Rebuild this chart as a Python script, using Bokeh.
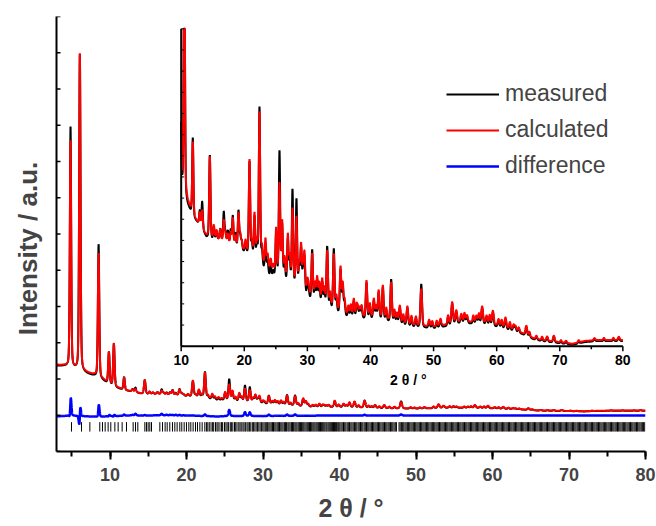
import numpy as np
from bokeh.plotting import figure
from bokeh.models import Range1d, SingleIntervalTicker, FixedTicker, Legend, LegendItem
from bokeh.core.properties import value
from bokeh.embed import file_html
from bokeh.resources import INLINE

FONT = "Liberation Sans"

# ---------------- data ----------------
# background (counts) of the calculated pattern at these 2theta knots
BG_X = [3, 4, 5, 6, 7, 8, 9, 10, 11, 12, 13, 14, 15, 16, 17, 18, 19, 20, 21, 22,
        23, 24, 25, 26, 27, 28, 29, 30, 31, 32, 33, 34, 35, 36, 37, 38, 39, 40,
        42, 44, 46, 48, 50, 52, 54, 56, 58, 60, 62, 64, 66, 68, 70, 72, 74, 76, 78, 80]
BG_CALC = [2390, 2370, 2300, 2230, 2170, 2110, 2000, 1850, 1760, 1690, 1650, 1605,
           1590, 1585, 1575, 1565, 1555, 1535, 1515, 1495, 1472, 1448, 1428, 1415,
           1395, 1385, 1365, 1335, 1318, 1303, 1285, 1275, 1258, 1246, 1236, 1232,
           1232, 1232, 1225, 1210, 1198, 1192, 1188, 1198, 1210, 1210, 1205, 1195,
           1180, 1160, 1134, 1124, 1118, 1111, 1124, 1128, 1128, 1128]
# measured background minus calculated background
BG_MEAS_DELTA = [-30, -20, -10, -20, -30, -40, -40, -20, -20, -10, 0, -10, -10, 0, 0,
                 -5, -10, -10, -10, -20, -25, -35, -25, -20, -25, -20, -20, -25, -20,
                 -15, -20, -15, -15, -15, -10, -10, -10, -10, -10, -10, -8, -8, -8,
                 -8, -8, -8, -8, -8, -8, -5, -5, -5, -5, -5, -5, -5, -5, -5]

# main reflections: position (deg 2theta), calculated / measured net height, FWHM, measured shift
PEAK_POS = [4.83, 6.05, 8.50, 9.85, 10.50, 11.84, 12.95, 13.33, 14.54, 15.17, 16.75,
            17.40, 17.85, 18.18, 18.60, 19.08, 19.60, 20.83, 21.62, 22.41, 23.36,
            24.60, 25.05, 25.58, 26.00, 26.90, 27.64, 28.27, 29.00, 29.54, 30.20,
            30.76, 31.55, 32.35, 33.14, 34.19, 35.25, 35.60, 36.50, 37.36, 38.00,
            38.60, 39.37, 40.53, 41.30, 41.96, 43.28, 44.65, 45.85, 48.05, 49.30,
            51.10, 52.95, 53.60, 54.40, 55.30, 56.80, 57.70, 58.40, 59.40, 60.30,
            61.40, 62.70, 63.50, 64.70, 66.30, 68.00, 69.06, 71.00, 75.50, 79.36]
PEAK_CALC = [6255, 8745, 3408, 864, 1170, 330, 55, 83, 370, 60, 94,
             40, 50, 120, 40, 150, 30, 432, 198, 681, 123,
             30, 207, 419, 248, 205, 335, 306, 191, 169, 40,
             197, 102, 106, 249, 246, 203, 131, 40, 79, 40,
             50, 166, 84, 125, 150, 175, 77, 82, 169, 30,
             31, 97, 55, 36, 30, 30, 75, 35, 63, 30,
             46, 25, 20, 42, 15, 20, 27, 10, 10, 15]
PEAK_MEAS = [6650, 8745, 3695, 880, 1180, 360, 65, 125, 385, 60, 132,
             55, 65, 135, 60, 170, 40, 432, 198, 726, 123,
             30, 207, 586, 248, 205, 442, 405, 191, 169, 40,
             235, 102, 106, 287, 284, 203, 131, 40, 79, 40,
             50, 166, 84, 125, 150, 198, 77, 82, 199, 30,
             31, 97, 55, 36, 30, 30, 75, 35, 63, 30,
             46, 25, 20, 42, 15, 20, 27, 10, 10, 15]
PEAK_FWHM = [0.20, 0.21, 0.21, 0.22, 0.22, 0.22, 0.24, 0.24, 0.24, 0.24, 0.24,
             0.24, 0.24, 0.24, 0.24, 0.24, 0.24, 0.25, 0.25, 0.25, 0.25,
             0.25, 0.25, 0.25, 0.25, 0.25, 0.25, 0.25, 0.26, 0.26, 0.26,
             0.26, 0.27, 0.27, 0.27, 0.27, 0.27, 0.27, 0.27, 0.27, 0.27,
             0.27, 0.27, 0.28, 0.28, 0.28, 0.28, 0.30, 0.30, 0.30, 0.30,
             0.32, 0.32, 0.32, 0.32, 0.32, 0.32, 0.32, 0.32, 0.32, 0.32,
             0.32, 0.32, 0.32, 0.32, 0.32, 0.32, 0.32, 0.32, 0.32, 0.32]
PEAK_SHIFT = [0.004, 0.004, 0.004, 0.003, 0.003] + [0.0] * 66

# weak reflections (same in measured and calculated pattern)
WEAK_POS = [15.6, 16.2, 17.0, 19.35, 20.2, 21.2, 22.0, 22.8, 23.7, 24.2, 26.4, 27.2,
            28.7, 29.3, 30.0, 31.2, 31.9, 32.7, 33.6, 34.6, 35.9, 36.9, 37.8, 38.3,
            39.9, 40.9, 42.5, 43.8, 44.2, 45.2, 46.5, 47.2, 49.8, 50.5, 52.3, 54.9,
            56.3, 57.2, 58.9, 60.8, 62.1, 63.0, 65.2, 67.2, 70.2, 73.0, 77.0, 78.5]
WEAK_HEIGHT = [40, 50, 40, 60, 50, 60, 80, 70, 60, 50, 90, 110,
               100, 90, 60, 70, 80, 70, 60, 60, 60, 50, 50, 40,
               60, 50, 50, 50, 40, 40, 40, 40, 25, 25, 40, 40,
               30, 40, 40, 30, 30, 20, 20, 15, 10, 10, 10, 10]
WEAK_FWHM = 0.26

# Bragg reflection tick positions (deg 2theta)
REFLECTIONS = [
    4.96, 6.27, 7.36, 8.66, 9.01, 9.36, 9.75, 10.10, 10.63, 11.06, 11.58, 12.15,
    13.02, 13.33, 13.63, 14.55, 14.76, 14.98, 15.20, 15.42, 16.51, 16.86, 17.20,
    17.47, 17.81, 18.16, 18.47, 18.77, 19.12, 19.38, 19.69, 19.99, 20.30, 20.56,
    20.86, 21.17, 21.43, 21.74, 22.04, 22.39,
    22.60, 22.78, 22.97, 23.20, 23.41, 23.55, 23.79, 23.98, 24.13, 24.37, 24.58,
    24.72, 24.96, 25.15, 25.31, 25.50, 25.72, 25.86, 26.05, 26.27, 26.43, 26.60,
    26.83, 26.99, 27.15, 27.37, 27.52, 27.69, 27.90, 28.05, 28.22, 28.40, 28.60,
    28.74, 28.93, 29.10, 29.27, 29.45, 29.62, 29.79, 29.97,
    30.13, 30.29, 30.43, 30.60, 30.76, 30.91, 31.07, 31.23, 31.37, 31.54, 31.69,
    31.85, 32.00, 32.15, 32.32, 32.47, 32.62, 32.79, 32.93, 33.08, 33.25, 33.39,
    33.54, 33.71, 33.85, 34.00, 34.16, 34.30, 34.44, 34.60, 34.75, 34.89, 35.04,
    35.19, 35.33, 35.48, 35.63, 35.78, 35.92, 36.07, 36.21, 36.36, 36.51, 36.65,
    36.79, 36.94, 37.08, 37.23, 37.37, 37.51, 37.66, 37.80, 37.94, 38.08, 38.23,
    38.36, 38.51, 38.65, 38.79, 38.93, 39.07, 39.21, 39.35, 39.49, 39.62, 39.77, 39.90,
    40.04, 40.20, 40.35, 40.52, 40.68, 40.83, 41.00, 41.15, 41.31, 41.48, 41.63,
    41.79, 41.95, 42.11, 42.26, 42.43, 42.58, 42.74, 42.90, 43.05, 43.22, 43.37,
    43.53, 43.69, 43.84, 44.00, 44.16, 44.31, 44.47, 44.63, 44.78, 44.94, 45.10,
    45.25, 45.41, 45.57, 45.72, 45.88, 46.04, 46.19, 46.35, 46.50, 46.66, 46.82,
    46.97, 47.13, 47.29, 47.44, 47.78, 47.93, 48.09, 48.25, 48.40, 48.56, 48.71,
    48.87, 49.03, 49.18, 49.34, 49.49, 49.65, 49.81, 49.96,
    50.12, 50.27, 50.43, 50.58, 50.74, 50.90, 51.05, 51.21, 51.36, 51.52, 51.67,
    51.83, 51.99, 52.14, 52.30, 52.45, 52.61, 52.76, 52.92, 53.07, 53.23, 53.39,
    53.54, 53.70, 53.85, 54.01, 54.16, 54.32, 54.47, 54.63, 54.79, 54.94, 55.10,
    55.25, 55.41, 55.56, 55.72, 55.87, 56.03, 56.18, 56.34, 56.50, 56.65, 56.81,
    56.96, 57.12, 57.27, 57.43, 57.58, 57.74, 57.89, 58.05, 58.20, 58.36, 58.51,
    58.67, 58.82, 58.98, 59.13, 59.29, 59.44, 59.60, 59.75, 59.91,
    60.06, 60.22, 60.37, 60.53, 60.68, 60.84, 60.99, 61.15, 61.30, 61.46, 61.61,
    61.77, 61.92, 62.08, 62.23, 62.39, 62.54, 62.70, 62.85, 63.01, 63.16, 63.32,
    63.47, 63.63, 63.78, 63.94, 64.09, 64.25, 64.40, 64.56, 64.71, 64.87, 65.02,
    65.18, 65.33, 65.49, 65.64, 65.80, 65.95, 66.11, 66.26, 66.42, 66.57, 66.73,
    66.88, 67.04, 67.19, 67.35, 67.50, 67.66, 67.81, 67.97, 68.12, 68.28, 68.43,
    68.59, 68.74, 68.90, 69.05, 69.21, 69.36, 69.52, 69.67, 69.83, 69.98,
    70.14, 70.29, 70.45, 70.60, 70.76, 70.91, 71.07, 71.22, 71.38, 71.53, 71.69,
    71.84, 72.00, 72.15, 72.31, 72.46, 72.62, 72.77, 72.93, 73.08, 73.24, 73.39,
    73.55, 73.70, 73.86, 74.01, 74.17, 74.32, 74.48, 74.63, 74.79, 74.94, 75.10,
    75.25, 75.41, 75.56, 75.72, 75.87, 76.03, 76.18, 76.34, 76.49, 76.65, 76.80,
    76.96, 77.11, 77.27, 77.42, 77.58, 77.73, 77.89, 78.04, 78.20, 78.35, 78.51,
    78.66, 78.82, 78.97, 79.13, 79.28, 79.44, 79.59, 79.75, 79.90,
]

DIFF_OFFSET = 1000          # counts, offset of the difference curve
X_TICKS = [10, 20, 30, 40, 50, 60, 70, 80]
X_TICK_LABELS = ["10", "20", "30", "40", "50", "60", "70", "80"]
X_MINOR_TICKS = [15, 25, 35, 45, 55, 65, 75]
MAIN_Y_TICKS = [0, 1000, 2000, 3000, 4000, 5000, 6000, 7000, 8000, 9000, 10000, 11000, 12000]
LEGEND_LABELS = ["measured", "calculated", "difference"]
X_TITLE = "2 θ / °"
Y_TITLE = "Intensity / a.u."

# ---------------- layout / style constants ----------------
MAIN_X = (3, 80)
MAIN_Y = (0, 12000)
INSET_X = (10, 80)
INSET_Y = (1100, 2555)
INSET_Y_STEP = 97
INSET_TARGET_X = (19.30, 77.04)
INSET_TARGET_Y = (2905, 11660)
TICK_Y = (550, 810)
NBSP = "\u00a0"

# ---------------- pattern on the 2theta grid ----------------
tt = np.round(np.arange(3.0, 80.0 + 0.005, 0.01), 3)


def peaks(pos, height, fwhm, shift):
    out = np.zeros_like(tt)
    for p0, h, w, s in zip(pos, height, fwhm, shift):
        d = (tt - p0 - s) / (w / 2.0)
        out += h * (0.3 / (1.0 + d * d) + 0.7 * np.exp(-np.log(2.0) * d * d))
    return out


zero_shift = [0.0] * len(PEAK_POS)
weak = peaks(WEAK_POS, WEAK_HEIGHT, [WEAK_FWHM] * len(WEAK_POS), [0.0] * len(WEAK_POS))
bg = np.interp(tt, BG_X, BG_CALC)
calc = bg + weak + peaks(PEAK_POS, PEAK_CALC, PEAK_FWHM, zero_shift)
meas = (bg + weak + np.interp(tt, BG_X, BG_MEAS_DELTA)
        + peaks(PEAK_POS, PEAK_MEAS, PEAK_FWHM, PEAK_SHIFT))
diff = meas - calc + DIFF_OFFSET

# ---------------- main figure ----------------
p = figure(width=656, height=526, x_range=Range1d(*MAIN_X), y_range=Range1d(*MAIN_Y),
           output_backend="svg", toolbar_location=None,
           min_border_left=56, min_border_right=11, min_border_top=16, min_border_bottom=75)
p.outline_line_color = None
p.xgrid.visible = False
p.ygrid.visible = False

r_meas = p.line(tt, meas, line_color="black", line_width=2)
r_calc = p.line(tt, calc, line_color="red", line_width=2)
r_diff = p.line(tt, diff, line_color="blue", line_width=2.5)
p.segment(x0=REFLECTIONS, y0=TICK_Y[0], x1=REFLECTIONS, y1=TICK_Y[1],
          line_color="black", line_width=1)

xa = p.xaxis[0]
xa.ticker = SingleIntervalTicker(interval=10, num_minor_ticks=2)
xa.axis_line_width = 2
xa.major_tick_line_width = 2
xa.minor_tick_line_width = 2
xa.major_tick_out = 8
xa.major_tick_in = 0
xa.minor_tick_out = 5
xa.minor_tick_in = 0
xa.major_label_text_font = FONT
xa.major_label_text_font_style = "bold"
xa.major_label_text_font_size = "18px"
xa.major_label_standoff = 8
xa.axis_label = X_TITLE
xa.axis_label_text_font = FONT
xa.axis_label_text_font_style = "bold"
xa.axis_label_text_font_size = "25px"
xa.axis_label_standoff = 10

ya = p.yaxis[0]
ya.ticker = FixedTicker(ticks=[])
ya.axis_line_width = 2
ya.major_tick_out = 0
ya.minor_tick_out = 0
# trailing no-break spaces move the vertical title down so that it sits where the original has it
ya.axis_label = Y_TITLE + NBSP * 4
ya.axis_label_text_font = FONT
ya.axis_label_text_font_style = "bold"
ya.axis_label_text_font_size = "26px"
ya.axis_label_standoff = 14
# inward y ticks of the main axis
p.ray(x=MAIN_X[0], y=MAIN_Y_TICKS, length=4, length_units="screen", angle=0,
      line_color="black", line_width=1.5)

# ---------------- inset (sub-coordinates inside the main frame) ----------------
ins = p.subplot(x_source=Range1d(*INSET_X), y_source=Range1d(*INSET_Y),
                x_target=Range1d(*INSET_TARGET_X), y_target=Range1d(*INSET_TARGET_Y))
m = tt >= INSET_X[0]
ins.line(tt[m], np.minimum(meas[m], INSET_Y[1]), line_color="black", line_width=2)
ins.line(tt[m], np.minimum(calc[m], INSET_Y[1]), line_color="red", line_width=2)

ins.line(x=list(INSET_X), y=[INSET_Y[0], INSET_Y[0]], line_color="black", line_width=2)
ins.line(x=[INSET_X[0], INSET_X[0]], y=list(INSET_Y), line_color="black", line_width=2)
ins.ray(x=X_TICKS, y=INSET_Y[0], length=5, length_units="screen", angle=-np.pi / 2,
        line_color="black", line_width=1.5)
ins.ray(x=X_MINOR_TICKS, y=INSET_Y[0], length=3, length_units="screen", angle=-np.pi / 2,
        line_color="black", line_width=1.5)
inset_yticks = list(np.arange(INSET_Y[0], INSET_Y[1] + 1, INSET_Y_STEP))
ins.ray(x=INSET_X[0], y=inset_yticks, length=3, length_units="screen", angle=0,
        line_color="black", line_width=1)
ins.text(x=X_TICKS, y=INSET_Y[0], text=X_TICK_LABELS, text_align="center",
         text_baseline="top", y_offset=9, text_font=value(FONT),
         text_font_style="bold", text_font_size="14px", text_color="black")
ins.text(x=[46], y=[INSET_Y[0]], text=[X_TITLE], text_align="center",
         text_baseline="middle", y_offset=34, text_font=value(FONT),
         text_font_style="bold", text_font_size="14px", text_color="black")

legend = Legend(items=[LegendItem(label=LEGEND_LABELS[0], renderers=[r_meas]),
                       LegendItem(label=LEGEND_LABELS[1], renderers=[r_calc]),
                       LegendItem(label=LEGEND_LABELS[2], renderers=[r_diff])],
                location=(390, 272), glyph_width=53, glyph_height=20, label_height=20,
                spacing=9, padding=0, margin=0, label_standoff=6,
                border_line_color=None, background_fill_alpha=0,
                label_text_font=FONT, label_text_font_size="23px")
p.add_layout(legend)

open("out.html", "w").write(file_html(p, INLINE))
